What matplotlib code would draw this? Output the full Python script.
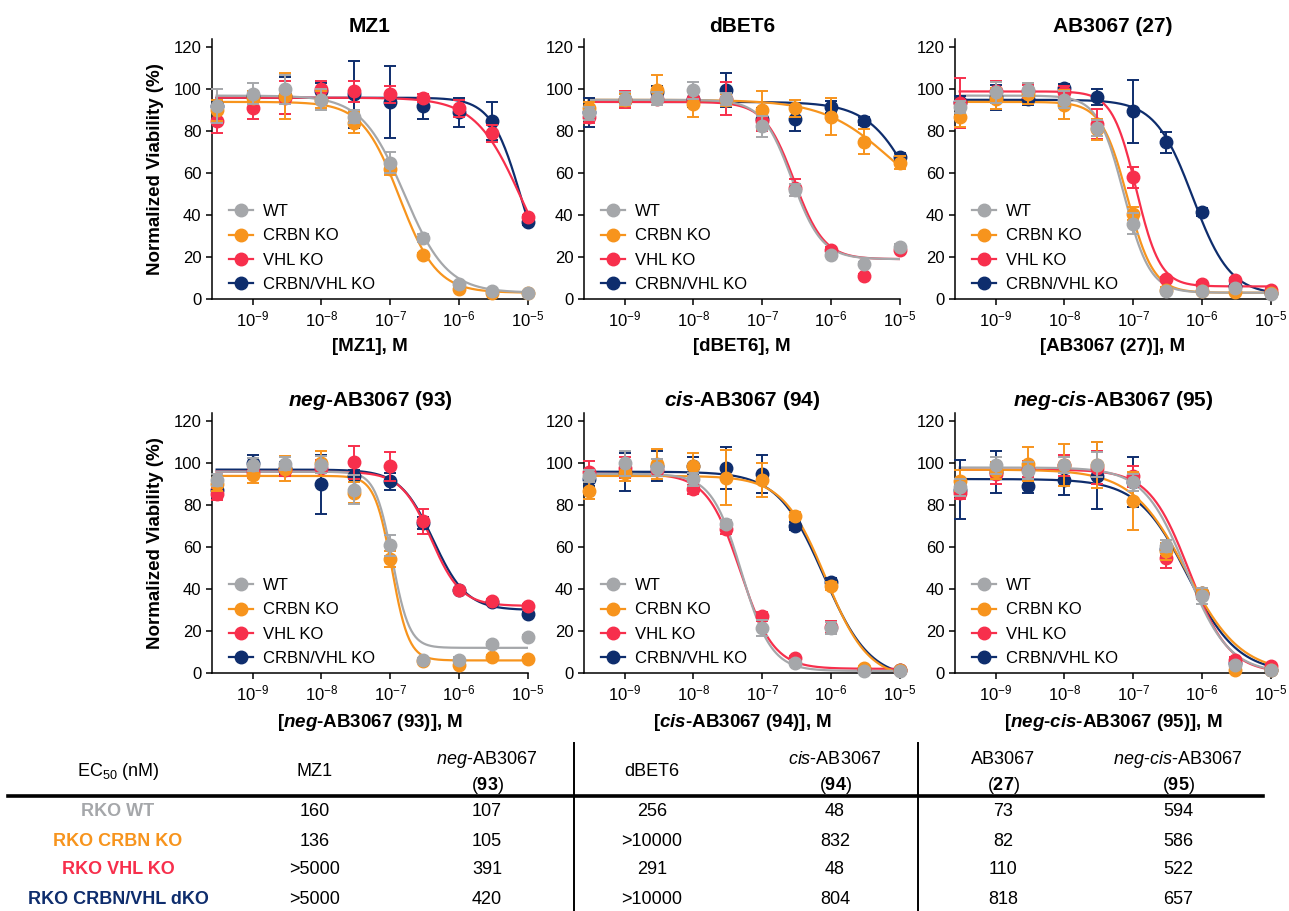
import numpy as np
import matplotlib
matplotlib.use("Agg")
import matplotlib.pyplot as plt
from matplotlib.lines import Line2D
from matplotlib.ticker import NullLocator

plt.rcParams["font.family"] = ["Liberation Sans", "DejaVu Sans"]
plt.rcParams["mathtext.fontset"] = "custom"
plt.rcParams["mathtext.rm"] = "Liberation Sans"
plt.rcParams["mathtext.it"] = "Liberation Sans:italic"
plt.rcParams["mathtext.bf"] = "Liberation Sans:bold"
plt.rcParams["mathtext.bfit"] = "Liberation Sans:italic:bold"
plt.rcParams["mathtext.default"] = "regular"

W, H = 1289, 911

# concentrations (M)
conc = [3e-10, 1e-9, 3e-9, 1e-8, 3e-8, 1e-7, 3e-7, 1e-6, 3e-6, 1e-5]

lines_names = ["WT", "CRBN KO", "VHL KO", "CRBN/VHL KO"]
colors = ["#A5A7AA", "#F7941D", "#F72F4C", "#0E2D6D"]

# --- MZ1 ---
mz1_mean = [[92, 98, 100, 95, 87, 65, 29, 7, 4, 3],
            [90, 96, 97, 95, 84, 62, 21, 5, 3, 3],
            [85, 91, 96, 100, 99, 97.6, 96, 91, 79, 39],
            [92, 97, 97, 99, 97.6, 94, 92, 89, 85, 36.5]]
mz1_sd = [[8, 5, 7, 5, 3, 5, 2, 1, 1, 1],
          [5, 3, 11, 4, 5, 3, 1, 1, 1, 1],
          [6, 5, 8, 4, 5, 4, 2, 4, 4, 1],
          [3, 2, 9, 4, 16, 17, 6, 7, 9, 1]]
mz1_fit = [(97, 3, 1.6e-7, 1.4), (94, 3, 1.36e-7, 1.6),
           (96, 0, 8e-6, 1.3), (96, 0, 8e-6, 2.0)]

# --- dBET6 ---
dbet6_mean = [[88.5, 95.6, 95.6, 99.6, 95.3, 82.4, 52, 21, 16.7, 25],
              [91, 95, 99.6, 93, 95, 90, 91, 87, 75, 65],
              [87, 95, 95.6, 95.6, 95.6, 85, 53, 23.6, 11, 23.6],
              [89, 95, 98.8, 95.6, 99.6, 86, 86, 91.6, 85, 67.7]]
dbet6_sd = [[3, 3, 3, 4, 3, 5, 3, 1, 1, 1],
            [3, 3, 7, 6, 3, 9, 4, 9, 6, 3],
            [3, 4, 3, 3, 8, 5, 4, 1, 1, 1],
            [7, 3, 3, 4, 8, 5, 6, 3, 2, 2]]
dbet6_fit = [(95, 19, 2.7e-7, 2.0), (95, 40, 7e-6, 0.9),
             (94, 19, 2.9e-7, 2.0), (94, 0, 2e-5, 1.25)]

# --- AB3067 (27) ---
ab27_mean = [[91.5, 98.7, 99.8, 95, 81.6, 36, 4, 3.7, 5.3, 2.4],
             [87, 95.5, 98, 92.7, 81, 40.7, 4.5, 3.7, 3.2, 2.9],
             [93.6, 99, 99, 98.7, 83.5, 58, 9.6, 7.3, 9, 4.5],
             [94, 96.3, 95.5, 100.6, 96.3, 89.5, 74.8, 41.5, 6, 2.9]]
ab27_sd = [[3, 5, 3, 4, 4, 5, 1, 1, 1, 1],
           [5, 5, 5, 7, 5, 3, 1, 1, 1, 1],
           [12, 5, 3, 3, 7, 5, 1, 1, 1, 1],
           [3, 6, 3, 2, 4, 15, 5, 2, 1, 1]]
ab27_fit = [(97, 3, 7.3e-8, 2.3), (94, 3, 8.2e-8, 2.3),
            (99, 6, 1.1e-7, 2.5), (95, 2, 7.3e-7, 1.6)]

# --- neg-AB3067 (93) ---
neg93_mean = [[92, 99.4, 99.8, 99.4, 87.4, 61, 6, 6.4, 14, 17],
              [90, 94.6, 97.5, 100, 86, 54.4, 5.6, 4, 7.6, 6.8],
              [85.4, 96, 97, 97.8, 100.5, 98.6, 72.3, 39.7, 34.5, 32],
              [87.4, 100, 97.8, 90, 94, 91.4, 71.5, 39.4, 34, 28]]
neg93_sd = [[3, 3, 3, 4, 7, 5, 1, 1, 1, 1],
            [3, 4, 6, 6, 5, 4, 1, 1, 1, 1],
            [3, 3, 3, 4, 8, 7, 6, 1, 1, 1],
            [4, 4, 3, 14, 3, 4, 3, 1, 1, 1]]
neg93_fit = [(96, 12, 1.07e-7, 3.5), (94, 6, 1.05e-7, 3.5),
             (96, 32, 3.9e-7, 2.0), (97, 30, 4.2e-7, 1.8)]

# --- cis-AB3067 (94) ---
cis94_mean = [[94, 100, 98, 92.4, 71, 21.5, 5, 21.5, 1, 0.8],
              [87, 95.6, 99.6, 98.8, 93.2, 92, 75, 41.4, 2.4, 1.3],
              [96, 98, 97, 87.6, 68.5, 27, 7, 22, 2, 1.6],
              [92.4, 96, 98.8, 98.8, 97.7, 94.8, 70, 43.3, 2, 1.3]]
cis94_sd = [[3, 6, 4, 3, 2, 4, 1, 3, 1, 1],
            [4, 4, 7, 6, 13, 8, 2, 2, 1, 1],
            [5, 5, 3, 2, 2, 2, 1, 3, 1, 1],
            [3, 9, 7, 4, 10, 9, 2, 2, 1, 1]]
cis94_fit = [(95, 1, 5e-8, 2.0), (94, -3, 8.3e-7, 1.4),
             (95, 2, 4.8e-8, 1.8), (96, -3, 7.8e-7, 1.3)]

# --- neg-cis-AB3067 (95) ---
negcis95_mean = [[88.5, 99, 96.5, 99.2, 99.4, 91, 60.6, 36.7, 3.7, 1.3],
                 [91.7, 96.5, 99.7, 99.2, 99, 82, 58, 38, 1.3, 1.3],
                 [86, 95, 97.3, 99, 98, 93.8, 55, 37.5, 6.4, 3.2],
                 [87.4, 95.7, 89, 92, 94, 91.2, 59, 38.3, 4.8, 1.6]]
negcis95_sd = [[4, 4, 4, 4, 6, 4, 3, 4, 1, 1],
               [5, 4, 8, 10, 11, 14, 4, 2, 1, 1],
               [3, 5, 4, 5, 8, 5, 5, 2, 1, 1],
               [14, 10, 3, 7, 16, 12, 3, 2, 1, 1]]
negcis95_fit = [(98, 0, 5.9e-7, 1.4), (97, 0, 5.9e-7, 1.1),
                (97, 0, 6.5e-7, 1.5), (92.5, 0, 6.2e-7, 1.2)]

titles = ["MZ1", "dBET6", "AB3067 (27)",
          r"$\mathbfit{neg}$-AB3067 (93)", r"$\mathbfit{cis}$-AB3067 (94)",
          r"$\mathbfit{neg}$-$\mathbfit{cis}$-AB3067 (95)"]
xlabels = ["[MZ1], M", "[dBET6], M", "[AB3067 (27)], M",
           r"[$\mathbfit{neg}$-AB3067 (93)], M", r"[$\mathbfit{cis}$-AB3067 (94)], M",
           r"[$\mathbfit{neg}$-$\mathbfit{cis}$-AB3067 (95)], M"]
means = [mz1_mean, dbet6_mean, ab27_mean, neg93_mean, cis94_mean, negcis95_mean]
sds = [mz1_sd, dbet6_sd, ab27_sd, neg93_sd, cis94_sd, negcis95_sd]
fits = [mz1_fit, dbet6_fit, ab27_fit, neg93_fit, cis94_fit, negcis95_fit]

# EC50 table
table_cols = ["MZ1", r"$\mathit{neg}$-AB3067", "dBET6", r"$\mathit{cis}$-AB3067",
              "AB3067", r"$\mathit{neg}$-$\mathit{cis}$-AB3067"]
table_cols2 = ["", r"($\mathbf{93}$)", "", r"($\mathbf{94}$)", r"($\mathbf{27}$)", r"($\mathbf{95}$)"]
row_labels = ["RKO WT", "RKO CRBN KO", "RKO VHL KO", "RKO CRBN/VHL dKO"]
ec50_table = [["160", "107", "256", "48", "73", "594"],
              ["136", "105", ">10000", "832", "82", "586"],
              [">5000", "391", "291", "48", "110", "522"],
              [">5000", "420", ">10000", "804", "818", "657"]]


def logistic(x, top, bottom, ec50, hill):
    return bottom + (top - bottom) / (1 + (x / ec50) ** hill)


fig = plt.figure(figsize=(W / 100, H / 100), dpi=100)

lefts = [212, 584, 955]
bottoms = [299, 673]
aw, ah = 316, 260
xfit = np.logspace(np.log10(conc[0]), np.log10(conc[-1]), 300)

for i in range(6):
    row, col = divmod(i, 3)
    ax = fig.add_axes([lefts[col] / W, 1 - bottoms[row] / H, aw / W, ah / H])
    for k in [3, 2, 1, 0]:
        top, bottom, ec50, hill = fits[i][k]
        ax.plot(xfit, logistic(xfit, top, bottom, ec50, hill), color=colors[k],
                lw=1.6, zorder=2)
        cont = ax.errorbar(conc, means[i][k], yerr=sds[i][k], fmt="o", ms=9,
                           color=colors[k], ecolor=colors[k], elinewidth=1.4,
                           capsize=4.5, capthick=1.4, zorder=3 + (3 - k))
        for art in cont.get_children():
            art.set_clip_on(False)
    ax.set_xscale("log")
    ax.set_xlim(10 ** -9.59, 1e-5)
    ax.set_ylim(0, 124)
    ax.set_yticks(range(0, 121, 20))
    ax.set_xticks([1e-9, 1e-8, 1e-7, 1e-6, 1e-5])
    ax.xaxis.set_minor_locator(NullLocator())
    for s in ["top", "right"]:
        ax.spines[s].set_visible(False)
    for s in ["left", "bottom"]:
        ax.spines[s].set_linewidth(1.1)
    ax.tick_params(width=1.1, length=4.5, labelsize=12, pad=3)
    ax.set_title(titles[i], fontsize=15, fontweight="bold", pad=5)
    ax.set_xlabel(xlabels[i], fontsize=13.5, fontweight="bold", labelpad=6)
    if col == 0:
        ax.set_ylabel("Normalized Viability (%)", fontsize=13.5,
                      fontweight="bold", labelpad=7)
    handles = [Line2D([], [], color=c, marker="o", ms=9, lw=1.6) for c in colors]
    ax.legend(handles, lines_names, loc="lower left", bbox_to_anchor=(0.055, 0.028),
              frameon=False, fontsize=12, handlelength=1.4, handletextpad=0.6,
              labelspacing=0.55, borderpad=0, borderaxespad=0)


def px(x, y):
    return x / W, 1 - y / H


# table
col_x = [315, 487, 652, 835, 1003, 1178]
label_x = 118
row_y = [812, 841, 870, 899]
fs = 13

fig.text(*px(label_x, 772), r"EC$_{50}$ (nM)", ha="center", va="center", fontsize=fs)
for j, cx in enumerate(col_x):
    if table_cols2[j]:
        fig.text(*px(cx, 760), table_cols[j], ha="center", va="center", fontsize=fs)
        fig.text(*px(cx, 786), table_cols2[j], ha="center", va="center", fontsize=fs)
    else:
        fig.text(*px(cx, 772), table_cols[j], ha="center", va="center", fontsize=fs)

for r, ry in enumerate(row_y):
    fig.text(*px(label_x, ry), row_labels[r], ha="center", va="center",
             fontsize=fs, fontweight="bold", color=colors[r])
    for j, cx in enumerate(col_x):
        fig.text(*px(cx, ry), ec50_table[r][j], ha="center", va="center", fontsize=fs)

fig.add_artist(Line2D([8 / W, 1263 / W], [1 - 796 / H] * 2, color="black", lw=2.6,
                      transform=fig.transFigure))
for vx in [574, 918]:
    fig.add_artist(Line2D([vx / W] * 2, [1 - 743 / H, 0], color="black", lw=1.4,
                          transform=fig.transFigure))

fig.savefig("out.png", dpi=100)
